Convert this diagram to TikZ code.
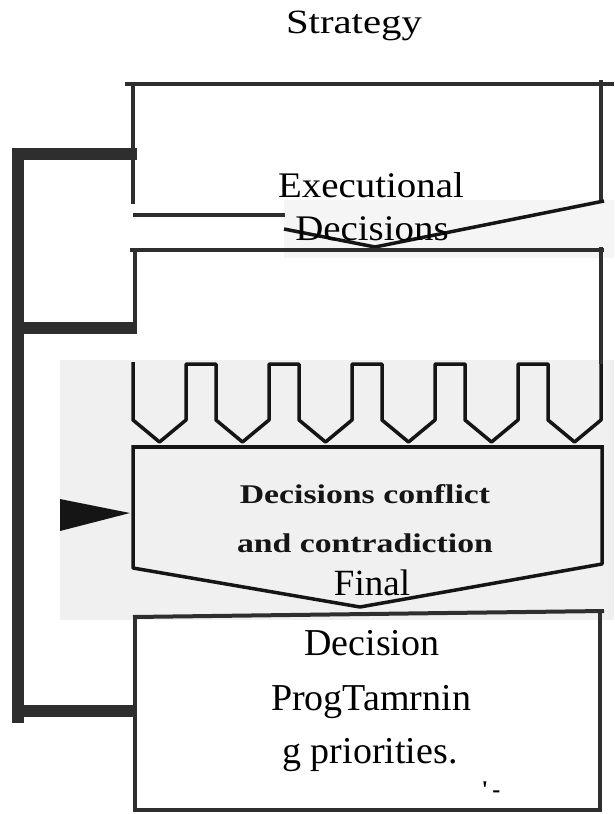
\documentclass[tikz,border=0pt]{standalone}
\usepackage{fontspec}
\setmainfont{Liberation Serif}
\usetikzlibrary{positioning}

\definecolor{framegray}{HTML}{2E2E2E}
\definecolor{scanink}{HTML}{151515}
\definecolor{scanpaper}{HTML}{F0F0F0}

\begin{document}
\begin{tikzpicture}[
    x=1pt, y=-1pt,
    boxline/.style={draw=framegray, line width=4pt},
    bracketbar/.style={draw=framegray, line width=12pt},
    scanline/.style={draw=scanink, line width=3.5pt, line join=round},
    plaintext/.style={font=\fontsize{36}{43}\selectfont, anchor=base, inner sep=0pt},
    scantext/.style={font=\fontsize{27}{32}\selectfont\bfseries, anchor=base, inner sep=0pt, text=scanink}
]
\useasboundingbox (0,0) rectangle (614,814);

% pasted scan pieces
\fill[scanpaper!70!white] (284,200) rectangle (614,258);
\fill[scanpaper] (60,360) rectangle (614,620);

% left bracket
\draw[bracketbar] (18,148) -- (18,723);
\draw[bracketbar] (12,154) -- (137,154);
\draw[bracketbar] (12,328) -- (137,328);
\draw[bracketbar] (12,711) -- (137,711);

% strategy box
\draw[boxline] (125,84) -- (614,84);
\draw[boxline] (133,84) -- (133,204);
\draw[boxline] (601,80) -- (601,202);
\draw[boxline] (133,215) -- (285,215);
\draw[scanline] (284,229) -- (375,247) -- (604,201);

% executional decisions box
\draw[boxline] (130,250) -- (604,250);
\draw[boxline] (135,250) -- (135,333);
\draw[boxline] (601,247) -- (601,364);

% decision arrows
\draw[scanline] (133,362) foreach \i in {0,...,5} {
    -- ({133+83*\i},364) -- ({133+83*\i},420) -- ({159.5+83*\i},442)
    -- ({186+83*\i},420) -- ({186+83*\i},364)};

% conflict box
\draw[scanline] (133,447) -- (604,447);
\draw[scanline] (133,445) -- (133,568) -- (360,607) -- (602,564) -- (602,445);
\fill[scanink] (60,499) -- (130,513) -- (60,531) -- cycle;

% final decision box
\draw[boxline] (133,617) -- (604,611);
\draw[boxline] (135,617) -- (135,810) -- (600,810) -- (600,611);

% texts
\node[plaintext, font=\fontsize{34}{40}\selectfont] (title) at (354,33) {\scalebox{1.2}[1]{Strategy}};
\node[plaintext] (exec1) at (371,197) {\scalebox{1.08}[1]{Executional}};
\node[plaintext] (exec2) at (372,240) {\scalebox{1.08}[1]{Decisions}};
\node[scantext] (conflict1) at (365,503) {\scalebox{1.25}[1]{Decisions conflict}};
\node[scantext] (conflict2) at (365,552) {\scalebox{1.25}[1]{and contradiction}};
\node[plaintext, font=\fontsize{37}{43}\selectfont] (final) at (372,595) {Final};
\node[plaintext, font=\fontsize{38}{43}\selectfont] (dec) at (372,655) {Decision};
\node[plaintext, font=\fontsize{38}{43}\selectfont] (prog) at (371,710) {ProgTamrnin};
\node[plaintext, font=\fontsize{38}{43}\selectfont] (prio) at (370,763) {g priorities.};
\node[plaintext, font=\fontsize{24}{28}\selectfont\bfseries] (mark) at (491,797) {\textquotesingle\,-};

\end{tikzpicture}
\end{document}
